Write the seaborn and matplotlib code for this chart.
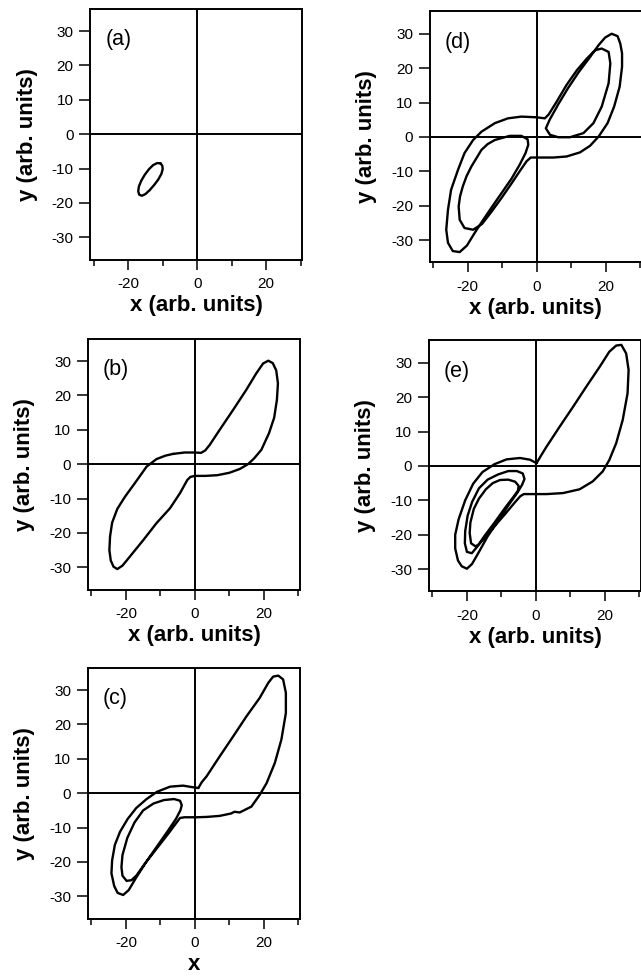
import numpy as np
import pandas as pd
import seaborn as sns
import matplotlib
matplotlib.use("Agg")
import matplotlib.pyplot as plt
from matplotlib.ticker import MultipleLocator

sns.set_theme(style="ticks")
plt.rcParams['font.family'] = ['Liberation Sans', 'DejaVu Sans']
plt.rcParams['axes.unicode_minus'] = False
for k in ['text.color', 'axes.labelcolor', 'xtick.color', 'ytick.color', 'axes.edgecolor']:
    plt.rcParams[k] = 'black'

# (a) small limit cycle
a_x = [-10.6, -10.1, -10.0, -10.4, -11.3, -12.5, -13.8, -15.0, -16.0, -16.8, -17.1, -16.9,
       -16.2, -15.2, -14.0, -12.8, -11.6, -10.6]
a_y = [-8.5, -9.2, -10.2, -11.6, -13.2, -14.8, -16.3, -17.4, -17.9, -17.6, -16.6, -15.2,
       -13.5, -11.8, -10.2, -9.0, -8.4, -8.5]

# (b) symmetric single loop
b_x = [-6.3, -3.0, 0.0, 1.8, 3.0, 4.3, 7.2, 11.1, 14.9, 17.8, 19.8, 21.3, 22.6, 23.6, 24.1,
       23.8, 23.0, 21.5, 19.3, 17.2, 15.4, 13.0, 10.0, 6.5, 3.0, 0.0, -1.3, -2.2, -4.3, -7.2,
       -11.1, -14.9, -18.8, -21.0, -22.5, -23.6, -24.4, -24.8, -24.6, -24.0, -22.5, -20.3,
       -17.4, -14.0, -11.1, -8.5, -6.3]
b_y = [3.0, 3.4, 3.4, 3.3, 4.0, 5.6, 10.0, 15.8, 21.6, 26.4, 29.3, 30.1, 29.4, 27.3, 23.5,
       18.7, 13.5, 9.0, 4.2, 1.7, 0.0, -1.4, -2.5, -3.2, -3.4, -3.4, -3.7, -4.6, -8.4, -12.8,
       -17.1, -22.0, -26.8, -29.5, -30.5, -29.8, -28.0, -25.0, -21.0, -17.0, -13.0, -9.5,
       -5.5, -0.7, 1.5, 2.5, 3.0]

# (c) asymmetric, two turns in the lower lobe
c_x = [1.0, 2.0, 3.4, 7.2, 11.1, 15.0, 18.8, 21.3, 22.7, 24.2, 25.6, 26.4, 26.4, 25.1, 23.2,
       20.8, 18.8, 16.4, 13.0, 11.5, 10.5, 7.2, 3.4, 0.5, -3.0, -4.3,
       -5.5, -7.5, -11.0, -14.5, -17.0, -18.4, -19.8, -21.0, -21.3, -21.0, -19.6, -17.5,
       -15.0, -12.0, -9.0, -6.0, -4.3, -3.8, -4.2,
       -5.5, -8.0, -11.0, -14.0, -17.0, -19.2, -20.8, -22.4, -23.4, -24.2, -24.0, -23.2,
       -21.7, -19.5, -17.0, -14.0, -11.0, -7.2, -3.4, -1.0, 1.0]
c_y = [1.5, 3.2, 4.9, 10.7, 16.5, 22.4, 27.7, 32.1, 33.9, 34.2, 33.1, 29.2, 23.3, 15.6, 8.8,
       2.9, -0.5, -3.9, -5.6, -5.4, -5.9, -6.6, -6.9, -7.0, -7.0, -7.2,
       -8.8, -11.5, -16.0, -20.5, -24.0, -25.3, -25.5, -24.0, -21.5, -18.0, -13.0, -8.5,
       -5.0, -3.0, -2.0, -1.7, -2.2, -3.5, -5.0,
       -7.5, -11.2, -15.5, -19.8, -24.5, -28.2, -29.6, -29.0, -27.0, -23.3, -19.5, -15.0,
       -11.2, -7.5, -4.3, -1.7, 0.4, 1.9, 2.2, 1.8, 1.5]

# (d) period-two symmetric orbit
d_x = [0.0, 2.4, 3.5, 5.8, 8.7, 11.7, 14.6, 17.0, 18.9, 20.9, 21.4, 20.9, 18.9, 16.5, 13.6,
       9.7, 6.3, 3.9, 2.7, 3.8, 6.3, 9.2, 12.2, 15.2, 18.0, 19.9, 21.8, 23.5, 24.3, 24.8,
       24.8, 24.1, 22.5, 20.6, 18.0, 15.5, 12.6, 8.7, 4.9, 0.0, -1.7,
       -2.9, -4.9, -7.3, -10.2, -13.1, -15.8, -18.4, -20.9, -22.3, -22.6, -22.2, -21.4,
       -20.3, -18.9, -16.0, -14.2, -12.1, -7.8, -4.4, -2.6, -2.4, -3.2,
       -4.9, -7.3, -10.2, -13.1, -15.8, -18.0, -20.2, -22.3, -24.3, -25.7, -26.2, -25.7,
       -24.8, -22.8, -20.9, -18.4, -16.0, -12.1, -8.3, -4.4, 0.0]
d_y = [5.7, 5.4, 6.5, 10.2, 15.1, 19.4, 22.8, 25.2, 25.7, 24.7, 21.4, 15.6, 8.8, 4.0, 1.1,
       -0.1, -0.1, 0.6, 2.5, 5.0, 9.5, 14.3, 18.8, 22.8, 26.7, 28.9, 30.0, 29.3, 27.1, 24.3,
       20.4, 14.6, 8.8, 4.0, 0.1, -2.6, -4.5, -5.7, -6.0, -6.0, -6.0,
       -7.1, -10.0, -13.6, -17.8, -21.8, -25.3, -27.0, -26.5, -24.1, -20.2, -17.3, -14.4,
       -11.4, -8.6, -3.8, -2.1, -0.9, 0.3, 0.3, -0.7, -2.3, -4.7,
       -8.1, -12.2, -16.4, -20.6, -24.6, -28.0, -31.6, -33.5, -33.2, -30.8, -27.0, -21.2,
       -15.4, -9.6, -4.7, -0.9, 1.5, 4.0, 5.4, 5.9, 5.7]

# (e) three turns in the lower lobe
e_x = [0.2, 1.5, 3.1, 6.9, 10.8, 14.6, 18.5, 21.3, 23.3, 24.8, 26.2, 26.9, 26.6, 25.2, 23.3,
       21.3, 19.4, 16.5, 12.7, 7.9, 3.1, -0.8, -3.5, -4.5,
       -6.0, -8.5, -11.5, -14.5, -16.5, -17.5, -18.8, -19.2, -19.0, -18.0, -16.5, -14.5,
       -12.5, -10.4, -8.0, -6.0, -5.0, -5.2,
       -6.5, -9.0, -12.0, -15.0, -17.0, -18.6, -20.0, -20.6, -20.5, -19.8, -18.5, -16.5,
       -14.0, -11.0, -8.0, -5.5, -3.8, -3.3, -4.0,
       -5.5, -8.0, -11.0, -14.0, -16.5, -18.5, -20.0, -21.5, -22.6, -23.4, -23.4, -22.4,
       -20.5, -18.2, -15.5, -12.0, -8.5, -4.6, -1.7, 0.2]
e_y = [0.8, 3.0, 5.6, 11.4, 17.2, 23.0, 28.8, 33.2, 35.0, 35.2, 32.7, 27.9, 21.1, 13.4, 6.6,
       1.7, -1.6, -4.5, -6.8, -7.9, -8.2, -8.2, -8.2, -8.8,
       -10.5, -13.5, -17.0, -20.5, -22.8, -23.4, -22.5, -19.5, -16.5, -12.5, -9.5, -6.8,
       -5.0, -4.1, -4.0, -4.6, -5.8, -7.2,
       -9.0, -12.3, -16.5, -20.5, -23.5, -25.4, -25.0, -22.5, -19.0, -14.5, -10.5, -6.5,
       -4.0, -2.5, -1.5, -1.5, -2.2, -3.8, -5.5,
       -8.0, -11.5, -16.0, -20.5, -25.0, -28.5, -29.9, -29.2, -27.5, -24.0, -20.0, -15.5,
       -10.0, -5.2, -1.8, 0.5, 1.9, 2.3, 1.8, 0.8]

W, H = 641, 977


def box(left, top, w=212, h=251):
    return [left / W, 1 - (top + h) / H, w / W, h / H]


panels = [
    ("(a)", a_x, a_y, box(90.3, 8.7), "x (arb. units)"),
    ("(b)", b_x, b_y, box(88.0, 338.7), "x (arb. units)"),
    ("(c)", c_x, c_y, box(88.0, 667.7), "x"),
    ("(d)", d_x, d_y, box(429.7, 11.4), "x (arb. units)"),
    ("(e)", e_x, e_y, box(429.0, 340.4), "x (arb. units)"),
]

fig = plt.figure(figsize=(W / 100, H / 100), dpi=100)

for label, xs, ys, pos, xlab in panels:
    ax = fig.add_axes(pos)
    ax.axhline(0, color="black", lw=1.4, zorder=1)
    ax.axvline(0, color="black", lw=1.4, zorder=1)
    df = pd.DataFrame({"x": xs, "y": ys})
    sns.lineplot(data=df, x="x", y="y", sort=False, estimator=None,
                 color="black", lw=1.7, ax=ax)
    ax.lines[-1].set_solid_joinstyle("round")
    ax.set_xlim(-31, 30.5)
    ax.set_ylim(-36.5, 36.5)
    ax.xaxis.set_major_locator(MultipleLocator(20))
    ax.xaxis.set_minor_locator(MultipleLocator(10))
    ax.set_yticks(range(-30, 31, 10))
    ax.tick_params(axis="x", which="major", length=7.5, width=1.1, labelsize=11, pad=5)
    ax.tick_params(axis="x", which="minor", length=4, width=1.1)
    ax.tick_params(axis="y", length=8, width=1.1, labelsize=11, pad=4)
    for s in ax.spines.values():
        s.set_linewidth(1.4)
    ax.set_xlabel(xlab, fontsize=16, fontweight="bold", labelpad=3)
    ax.set_ylabel("y (arb. units)", fontsize=16, fontweight="bold", labelpad=10)
    ax.text(0.07, 0.877, label, transform=ax.transAxes, fontsize=15.5,
            ha="left", va="center")

fig.savefig("out.png", dpi=100)
